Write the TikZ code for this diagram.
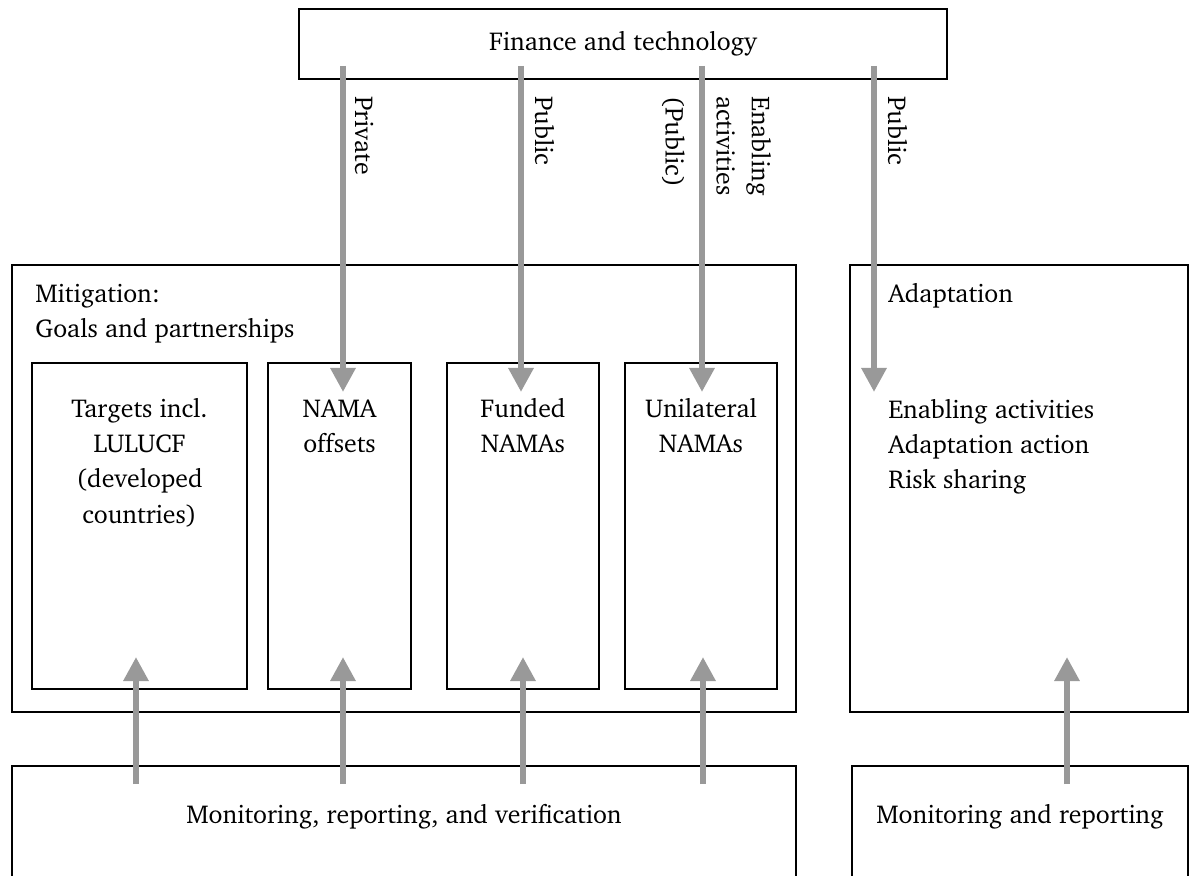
\documentclass[tikz,border=0pt]{standalone}
\usepackage[T1]{fontenc}
\usepackage{charter}
\usepackage{tikz}
\usetikzlibrary{arrows.meta}
\usetikzlibrary{positioning}
\definecolor{flowgray}{gray}{0.6}
\tikzset{
    box/.style={
        draw,
        rectangle,
        line width=0.9pt,
        inner sep=0pt
    },
    flow/.style={
        draw=flowgray,
        line width=3.4pt,
        -{Triangle[length=13.7pt, width=13.7pt]}
    },
    flowlabel/.style={
        rotate=-90,
        inner sep=0pt,
        align=left
    }
}

\begin{document}
\begin{tikzpicture}[x=0.02cm, y=-0.02cm,
    every node/.style={font=\fontsize{14.7}{20}\selectfont}]
    \useasboundingbox (0,0) rectangle (1191,876);

    % Frames
    \node[box, minimum width=12.96cm, minimum height=1.4cm] (fin) at (623,44) {Finance and technology};
    \node[box, minimum width=15.68cm, minimum height=8.94cm] (mit) at (404,488.5) {};
    \node[box, minimum width=6.76cm, minimum height=8.94cm] (ada) at (1019,488.5) {};
    \node[box, minimum width=15.68cm, minimum height=2.4cm] (mrv) at (404,826) {};
    \node[box, minimum width=6.72cm, minimum height=2.4cm] (mr) at (1020,826) {};

    % Mitigation columns
    \node[box, minimum width=4.3cm, minimum height=6.52cm] (targets) at (139.5,526) {};
    \node[box, minimum width=2.86cm, minimum height=6.52cm] (offsets) at (339.5,526) {};
    \node[box, minimum width=3.04cm, minimum height=6.52cm] (funded) at (523,526) {};
    \node[box, minimum width=3.04cm, minimum height=6.52cm] (unilateral) at (701,526) {};

    % Texts
    \node[anchor=north west, align=left, inner sep=0pt] (mittxt) at (35,277.4) {\strut Mitigation:\\Goals and partnerships};
    \node[align=center, inner sep=0pt, below=0.61cm of targets.north] (targetstxt) {\strut Targets incl.\\LULUCF\\(developed\\countries)};
    \node[align=center, inner sep=0pt, below=0.61cm of offsets.north] (offsetstxt) {\strut NAMA\\offsets};
    \node[align=center, inner sep=0pt, below=0.61cm of funded.north] (fundedtxt) {\strut Funded\\NAMAs};
    \node[align=center, inner sep=0pt, below=0.61cm of unilateral.north] (unilateraltxt) {\strut Unilateral\\NAMAs};
    \node[anchor=base west, inner sep=0pt] (adatxt) at (888,302) {Adaptation};
    \node[anchor=north west, align=left, inner sep=0pt] (adalist) at (888,393.4) {\strut Enabling activities\\Adaptation action\\Risk sharing};
    \node[anchor=base, inner sep=0pt] (mrvtxt) at (404,823) {Monitoring, reporting, and verification};
    \node[anchor=base, inner sep=0pt] (mrtxt) at (1020,823) {Monitoring and reporting};

    % Flows from finance
    \coordinate (d1) at (343,392);
    \coordinate (d2) at (521,392);
    \coordinate (d3) at (702,392);
    \coordinate (d4) at (874,392);
    \draw[flow, shorten <=-0.28cm] (fin.south -| d1) -- (d1);
    \draw[flow, shorten <=-0.28cm] (fin.south -| d2) -- (d2);
    \draw[flow, shorten <=-0.28cm] (fin.south -| d3) -- (d3);
    \draw[flow, shorten <=-0.28cm] (fin.south -| d4) -- (d4);
    \node[flowlabel, anchor=base west] (l1) at (355,96) {Private};
    \node[flowlabel, anchor=base west] (l2) at (535,96) {Public};
    \node[flowlabel, anchor=north west] (l3) at (685,96) {(Public)};
    \node[flowlabel, anchor=south west] (l4) at (716,96) {Enabling\\activities};
    \node[flowlabel, anchor=base west] (l5) at (888,96) {Public};

    % Reporting flows
    \coordinate (u1) at (136,657);
    \coordinate (u2) at (343,657);
    \coordinate (u3) at (523,657);
    \coordinate (u4) at (703,657);
    \coordinate (u5) at (1067,657);
    \draw[flow, shorten <=-0.38cm] (mrv.north -| u1) -- (u1);
    \draw[flow, shorten <=-0.38cm] (mrv.north -| u2) -- (u2);
    \draw[flow, shorten <=-0.38cm] (mrv.north -| u3) -- (u3);
    \draw[flow, shorten <=-0.38cm] (mrv.north -| u4) -- (u4);
    \draw[flow, shorten <=-0.38cm] (mr.north -| u5) -- (u5);
\end{tikzpicture}
\end{document}
